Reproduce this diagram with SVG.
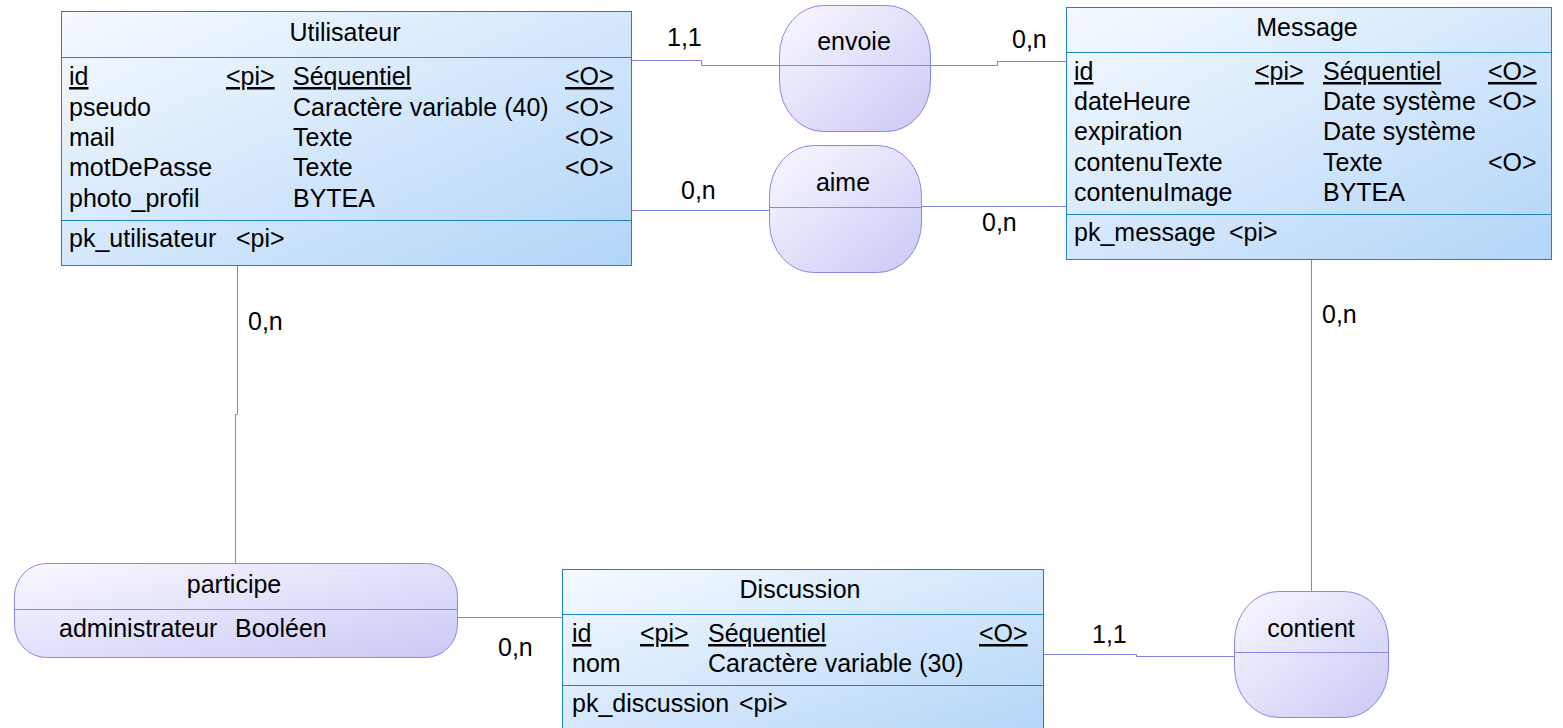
<svg xmlns="http://www.w3.org/2000/svg" width="1563" height="728" viewBox="0 0 1563 728">
<defs>
<linearGradient id="gEnt" x1="0" y1="0" x2="1" y2="1"><stop offset="0" stop-color="#f6faff"/><stop offset="1" stop-color="#b2d5f8"/></linearGradient>
<linearGradient id="gRel" x1="0" y1="0" x2="1" y2="1"><stop offset="0" stop-color="#f9f9ff"/><stop offset="1" stop-color="#c9c9f6"/></linearGradient>
</defs>
<style>
text{font-family:"Liberation Sans",Arial,sans-serif;font-size:25px;fill:#000}
.ent{fill:url(#gEnt);stroke:#1d82c6;stroke-width:1}
.esep{stroke:#1d82c6;stroke-width:1}
.rel{fill:url(#gRel);stroke:#8787ee;stroke-width:1}
.rsep{stroke:#8787ee;stroke-width:1}
.con{fill:none;stroke:#8080ea;stroke-width:1}
.c{text-anchor:middle}
.u{text-decoration:underline}
</style>
<rect width="1563" height="728" fill="#fff"/>
<g id="connectors">
<polyline class="con" points="631,60.5 701.5,60.5 701.5,65.5 779,65.5"/>
<polyline class="con" points="930,65.5 997.5,65.5 997.5,61.5 1066,61.5"/>
<polyline class="con" points="631,210.5 769,210.5"/>
<polyline class="con" points="921,206.5 1066,206.5"/>
<polyline class="con" points="237.5,265 237.5,414.5 235.5,414.5 235.5,563"/>
<polyline class="con" points="457,617.5 562,617.5"/>
<polyline class="con" points="1043,654.5 1136.5,654.5 1136.5,656.5 1234,656.5"/>
<polyline class="con" points="1311.5,259 1311.5,591"/>
<text x="667" y="46">1,1</text>
<text x="1012" y="48">0,n</text>
<text x="681" y="199">0,n</text>
<text x="982" y="231">0,n</text>
<text x="248" y="330">0,n</text>
<text x="498" y="656">0,n</text>
<text x="1092" y="643">1,1</text>
<text x="1322" y="323">0,n</text>
</g>
<g id="Utilisateur">
<rect class="ent" x="61.5" y="11.5" width="570" height="254"/>
<line class="esep" x1="61.5" y1="57.5" x2="631.5" y2="57.5"/>
<line class="esep" x1="61.5" y1="220.5" x2="631.5" y2="220.5"/>
<text class="c" x="345" y="41">Utilisateur</text>
<text class="u" x="69" y="85">id</text><text class="u" x="226" y="85">&lt;pi&gt;</text><text class="u" x="293" y="85">Séquentiel</text><text class="u" x="565" y="85">&lt;O&gt;</text>
<text x="69" y="115.5">pseudo</text><text x="293" y="115.5">Caractère variable (40)</text><text x="565" y="115.5">&lt;O&gt;</text>
<text x="69" y="146">mail</text><text x="293" y="146">Texte</text><text x="565" y="146">&lt;O&gt;</text>
<text x="69" y="176">motDePasse</text><text x="293" y="176">Texte</text><text x="565" y="176">&lt;O&gt;</text>
<text x="69" y="206.5">photo_profil</text><text x="293" y="206.5">BYTEA</text>
<text x="69" y="247">pk_utilisateur</text><text x="236" y="247">&lt;pi&gt;</text>
</g>
<g id="Message">
<rect class="ent" x="1066.5" y="7.5" width="485" height="252"/>
<line class="esep" x1="1066.5" y1="52.5" x2="1551.5" y2="52.5"/>
<line class="esep" x1="1066.5" y1="214.5" x2="1551.5" y2="214.5"/>
<text class="c" x="1307" y="36">Message</text>
<text class="u" x="1074" y="80">id</text><text class="u" x="1255" y="80">&lt;pi&gt;</text><text class="u" x="1323" y="80">Séquentiel</text><text class="u" x="1488" y="80">&lt;O&gt;</text>
<text x="1074" y="109.5">dateHeure</text><text x="1323" y="109.5">Date système</text><text x="1488" y="109.5">&lt;O&gt;</text>
<text x="1074" y="140">expiration</text><text x="1323" y="140">Date système</text>
<text x="1074" y="170.5">contenuTexte</text><text x="1323" y="170.5">Texte</text><text x="1488" y="170.5">&lt;O&gt;</text>
<text x="1074" y="201">contenuImage</text><text x="1323" y="201">BYTEA</text>
<text x="1074" y="241">pk_message</text><text x="1229" y="241">&lt;pi&gt;</text>
</g>
<g id="Discussion">
<rect class="ent" x="562.5" y="569.5" width="481" height="170"/>
<line class="esep" x1="562.5" y1="614.5" x2="1043.5" y2="614.5"/>
<line class="esep" x1="562.5" y1="685.5" x2="1043.5" y2="685.5"/>
<text class="c" x="800" y="598">Discussion</text>
<text class="u" x="572" y="642">id</text><text class="u" x="640" y="642">&lt;pi&gt;</text><text class="u" x="708" y="642">Séquentiel</text><text class="u" x="979" y="642">&lt;O&gt;</text>
<text x="572" y="672">nom</text><text x="708" y="672">Caractère variable (30)</text>
<text x="572" y="712">pk_discussion</text><text x="739" y="712">&lt;pi&gt;</text>
</g>
<g id="envoie">
<rect class="rel" x="779.5" y="5.5" width="151" height="126" rx="44" ry="50"/>
<line class="rsep" x1="779.5" y1="65.5" x2="930.5" y2="65.5"/>
<text class="c" x="854" y="50">envoie</text>
</g>
<g id="aime">
<rect class="rel" x="769.5" y="145.5" width="152" height="127" rx="44" ry="50"/>
<line class="rsep" x1="769.5" y1="207.5" x2="921.5" y2="207.5"/>
<text class="c" x="843" y="191">aime</text>
</g>
<g id="participe">
<rect class="rel" x="14.5" y="563.5" width="443" height="94" rx="32" ry="33"/>
<line class="rsep" x1="14.5" y1="609.5" x2="457.5" y2="609.5"/>
<text class="c" x="234" y="593">participe</text>
<text x="59" y="637">administrateur</text><text x="235" y="637">Booléen</text>
</g>
<g id="contient">
<rect class="rel" x="1234.5" y="591.5" width="154" height="126" rx="44" ry="50"/>
<line class="rsep" x1="1234.5" y1="652.5" x2="1388.5" y2="652.5"/>
<text class="c" x="1311" y="637">contient</text>
</g>
</svg>
